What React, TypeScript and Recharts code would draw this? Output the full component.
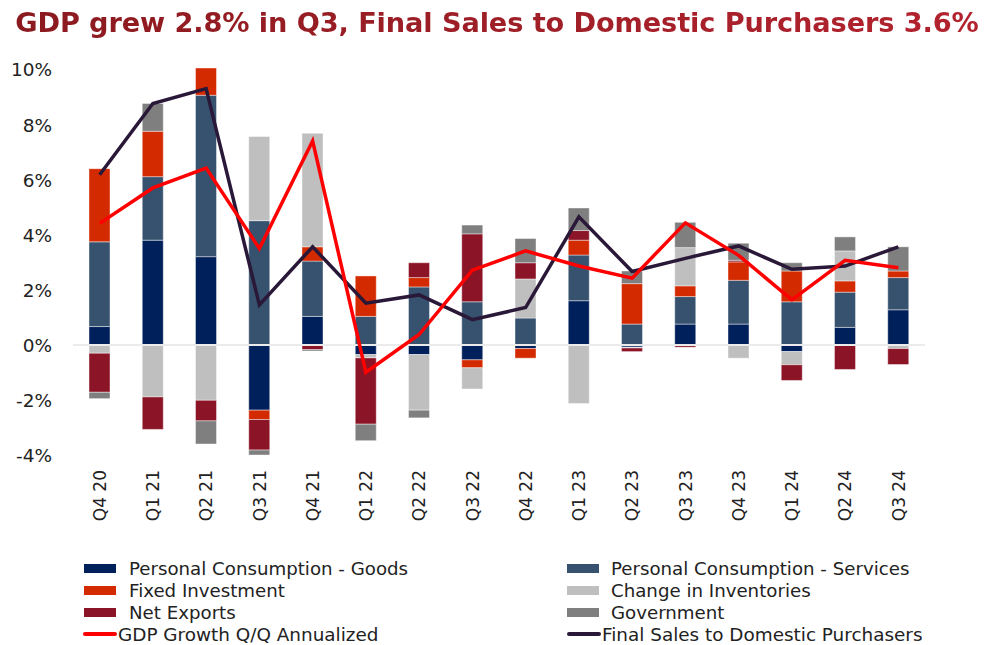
import React from 'react';
import { ComposedChart, Bar, Line, XAxis, YAxis, ReferenceLine } from 'recharts';

const categories = ['Q4 20','Q1 21','Q2 21','Q3 21','Q4 21','Q1 22','Q2 22','Q3 22','Q4 22','Q1 23','Q2 23','Q3 23','Q4 23','Q1 24','Q2 24','Q3 24'];
const goods = [0.67, 3.81, 3.21, -2.37, 1.04, -0.35, -0.35, -0.54, -0.13, 1.61, -0.08, 0.76, 0.76, -0.24, 0.64, 1.28];
const services = [3.08, 2.31, 5.87, 4.52, 2.01, 1.04, 2.11, 1.57, 0.98, 1.66, 0.76, 1.0, 1.59, 1.57, 1.28, 1.17];
const fixedInvestment = [2.66, 1.65, 0.99, -0.34, 0.52, 1.47, 0.34, -0.29, -0.35, 0.54, 1.47, 0.39, 0.67, 1.12, 0.41, 0.24];
const inventories = [-0.3, -1.89, -2.01, 3.06, 4.13, -0.12, -2.02, -0.77, 1.42, -2.13, -0.03, 1.39, -0.48, -0.48, 1.09, -0.13];
const netExports = [-1.42, -1.18, -0.75, -1.11, -0.17, -2.41, 0.54, 2.47, 0.59, 0.35, -0.13, -0.08, 0.06, -0.57, -0.89, -0.58];
const government = [-0.23, 1.01, -0.84, -0.18, -0.05, -0.6, -0.28, 0.32, 0.88, 0.82, 0.46, 0.92, 0.62, 0.3, 0.51, 0.88];
const gdpGrowth = [4.42, 5.71, 6.43, 3.51, 7.42, -0.99, 0.38, 2.72, 3.42, 2.87, 2.43, 4.44, 3.26, 1.64, 3.08, 2.81];
const finalSales = [6.19, 8.78, 9.32, 1.46, 3.57, 1.52, 1.82, 0.92, 1.36, 4.66, 2.67, 3.15, 3.6, 2.75, 2.87, 3.57];
const yTicks = [-4, -2, 0, 2, 4, 6, 8, 10];

const barSeries = [
  { key: 'goods', name: 'Personal Consumption - Goods', color: '#00205B', values: goods },
  { key: 'services', name: 'Personal Consumption - Services', color: '#37526E', values: services },
  { key: 'fixed', name: 'Fixed Investment', color: '#D42A00', values: fixedInvestment },
  { key: 'inv', name: 'Change in Inventories', color: '#BFBFBF', values: inventories },
  { key: 'nx', name: 'Net Exports', color: '#8B1527', values: netExports },
  { key: 'gov', name: 'Government', color: '#7F7F7F', values: government },
];
const lineSeries = [
  { key: 'gdp', name: 'GDP Growth Q/Q Annualized', color: '#FF0000', values: gdpGrowth },
  { key: 'fs', name: 'Final Sales to Domestic Purchasers', color: '#2A1838', values: finalSales },
];

const data = categories.map((c, i) => {
  const row: Record<string, any> = { cat: c };
  barSeries.forEach((s) => (row[s.key] = s.values[i]));
  lineSeries.forEach((s) => (row[s.key] = s.values[i]));
  return row;
});

const FONT = "'DejaVu Sans', sans-serif";

const XTick = (props: any) => {
  const { x, y, payload } = props;
  return (
    <g transform={`translate(${x},${y})`}>
      <text transform="rotate(-90)" textAnchor="end" dy="0.36em" fontSize={17} fill="#222" fontFamily={FONT}>
        {payload.value}
      </text>
    </g>
  );
};

const legendRows = [
  [barSeries[0], barSeries[1]],
  [barSeries[2], barSeries[3]],
  [barSeries[4], barSeries[5]],
];

export default function App() {
  return (
    <div style={{ position: 'absolute', left: 0, top: 0, width: 994, height: 645, background: '#fff', fontFamily: FONT }}>
      <div
        style={{
          position: 'absolute', left: 0, top: 6, width: 994, textAlign: 'center', fontSize: 27.2, fontWeight: 'bold',
          lineHeight: '34px', whiteSpace: 'nowrap', letterSpacing: -0.1,
          background: 'linear-gradient(90deg, #8A1A1F, #B3232F)', WebkitBackgroundClip: 'text', backgroundClip: 'text',
          color: 'transparent',
        }}
      >
        GDP grew 2.8% in Q3, Final Sales to Domestic Purchasers 3.6%
      </div>
      <div style={{ position: 'absolute', left: 0, top: 0 }}>
        <ComposedChart width={994} height={540} data={data} stackOffset="sign" barSize={21}
          margin={{ top: 68, right: 0, left: 0, bottom: 5 }}>
          <XAxis dataKey="cat" axisLine={false} tickLine={false} tickSize={0} tickMargin={15} height={80}
            interval={0} tick={<XTick />} />
          <YAxis yAxisId="left" orientation="left" width={73} domain={[-4, 10]} ticks={yTicks}
            axisLine={false} tickLine={false} tickSize={0} tickMargin={21} interval={0}
            tickFormatter={(v: number) => `${v}%`} tick={{ fontSize: 18.5, fill: '#222', fontFamily: FONT }} />
          <YAxis yAxisId="right" orientation="right" width={69} domain={[-4, 10]} ticks={yTicks}
            axisLine={false} tickLine={false} tickSize={0} tickMargin={21} interval={0}
            tickFormatter={(v: number) => `${v}%`} tick={{ fontSize: 18.5, fill: '#222', fontFamily: FONT, textAnchor: 'start' }} />
          <ReferenceLine yAxisId="left" y={0} stroke="#ebebeb" strokeWidth={2} />
          {barSeries.map((s) => (
            <Bar key={s.key} yAxisId="left" dataKey={s.key} name={s.name} stackId="a" fill={s.color}
              stroke="#ffffff" strokeWidth={0.6} strokeOpacity={0.7} isAnimationActive={false} />
          ))}
          {lineSeries.slice().reverse().map((s) => (
            <Line key={s.key} yAxisId="left" type="linear" dataKey={s.key} name={s.name} stroke={s.color}
              strokeWidth={3.5} dot={false} activeDot={false} isAnimationActive={false} />
          ))}
        </ComposedChart>
      </div>
      {legendRows.map((row, ri) => (
        row.map((s, ci) => (
          <div key={s.key} style={{ position: 'absolute', left: ci === 0 ? 84 : 567, top: 568 + ri * 22 - 11, height: 22, display: 'flex', alignItems: 'center' }}>
            <div style={{ width: 32, height: 9, background: s.color }} />
            <span style={{ marginLeft: ci === 0 ? 13 : 12, fontSize: 18.2, color: '#222', whiteSpace: 'nowrap' }}>{s.name}</span>
          </div>
        ))
      ))}
      {lineSeries.map((s, ci) => (
        <div key={s.key} style={{ position: 'absolute', left: ci === 0 ? 83 : 567, top: 634 - 11, height: 22, display: 'flex', alignItems: 'center' }}>
          <div style={{ width: 34, height: 3.5, background: s.color, borderRadius: 2 }} />
          <span style={{ marginLeft: 1, fontSize: 18.4, color: '#222', whiteSpace: 'nowrap' }}>{s.name}</span>
        </div>
      ))}
    </div>
  );
}
